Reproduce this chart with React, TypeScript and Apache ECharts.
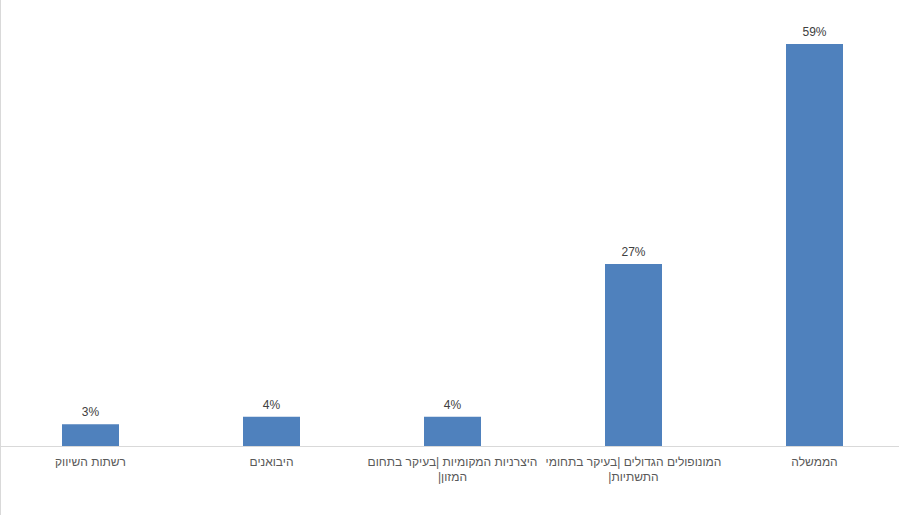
import React, { useEffect, useRef } from "react";
import * as echarts from "echarts";

const RLM = "\u200F";
const categories = [
  "רשתות השיווק",
  "היבואנים",
  "היצרניות המקומיות |בעיקר בתחום\nהמזון|" + RLM,
  "המונופולים הגדולים |בעיקר בתחומי\nהתשתיות|" + RLM,
  "הממשלה",
];
const values = [3.2, 4.3, 4.3, 26.7, 59];

export default function App() {
  const ref = useRef<HTMLDivElement>(null);
  useEffect(() => {
    if (!ref.current) return;
    const chart = echarts.init(ref.current, undefined, { renderer: "svg" });
    chart.setOption({
      animation: false,
      backgroundColor: "#ffffff",
      grid: { left: 0, top: 44, right: 0, bottom: 69, containLabel: false },
      xAxis: {
        type: "category",
        data: categories,
        axisLine: { show: true, lineStyle: { color: "#d9d9d9", width: 1 } },
        axisTick: { show: false },
        axisLabel: {
          color: "#595959",
          fontSize: 12,
          fontFamily: "Liberation Sans, Arial, sans-serif",
          margin: 8,
          lineHeight: 15,
          interval: 0,
        },
      },
      yAxis: {
        type: "value",
        min: 0,
        max: 59,
        show: false,
        splitLine: { show: false },
      },
      series: [
        {
          type: "bar",
          data: values,
          barWidth: 57,
          itemStyle: { color: "#4f81bd" },
          label: {
            show: true,
            position: "top",
            distance: 6,
            formatter: (p: any) => Math.round(p.value) + "%",
            color: "#404040",
            fontSize: 12,
            fontFamily: "Liberation Sans, Arial, sans-serif",
          },
        },
      ],
      graphic: [
        {
          type: "line",
          shape: { x1: 0.5, y1: 0, x2: 0.5, y2: 515 },
          style: { stroke: "#d9d9d9", lineWidth: 1 },
        },
      ],
    });
    return () => chart.dispose();
  }, []);
  return (
    <div
      style={{
        position: "fixed",
        left: 0,
        top: 0,
        width: 899,
        height: 515,
        overflow: "hidden",
        background: "#fff",
      }}
    >
      <div ref={ref} style={{ width: 905, height: 515 }} />
    </div>
  );
}
